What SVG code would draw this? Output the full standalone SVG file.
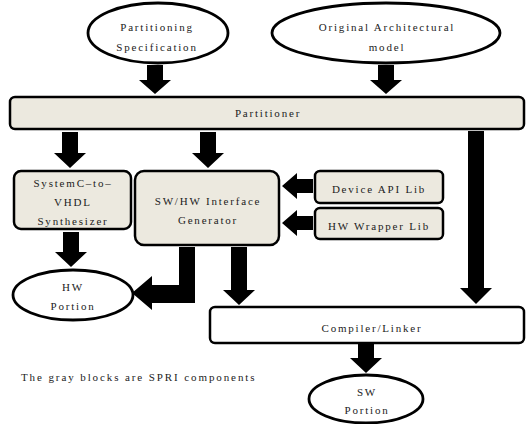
<svg xmlns="http://www.w3.org/2000/svg" width="527" height="424" viewBox="0 0 527 424">
<style>
.box{fill:#ECE9DF;stroke:#000;stroke-width:2.5}
.wbox{fill:#fff;stroke:#000;stroke-width:2.5}
.ell{fill:#fff;stroke:#000;stroke-width:2.8}
.t{font-family:"Liberation Serif","Times New Roman",serif;font-size:11px;letter-spacing:1.8px;fill:#222;text-anchor:middle}
.cap{font-family:"Liberation Serif","Times New Roman",serif;font-size:11px;letter-spacing:1.9px;fill:#222}
.ar{fill:#000}
</style>
<rect width="527" height="424" fill="#fff"/>
<g id="connectors">
<!-- down arrows: shaft half-width 8, head half-width 16 -->
<path class="ar" d="M147,65 H163 V80 H171 L155,94 L139,80 H147 Z"/>
<path class="ar" d="M378,65 H394 V80 H402 L386,94 L370,80 H378 Z"/>
<path class="ar" d="M62,132 H78 V153 H86 L70,168 L54,153 H62 Z"/>
<path class="ar" d="M200,132 H216 V153 H224 L208,168 L192,153 H200 Z"/>
<path class="ar" d="M468,131 H484 V288 H492 L476,304 L460,288 H468 Z"/>
<path class="ar" d="M63,232 H79 V252 H87 L71,267 L55,252 H63 Z"/>
<path class="ar" d="M231,247 H247 V290 H255 L239,305 L223,290 H231 Z"/>
<path class="ar" d="M358,344 H374 V358 H382 L366,373 L350,358 H358 Z"/>
<!-- left arrows from libs -->
<path class="ar" d="M313,179 V193 H297 V199 L282,186 L297,173 V179 Z"/>
<path class="ar" d="M313,216 V230 H297 V236 L282,223 L297,210 V216 Z"/>
<!-- L arrow to HW portion -->
<path class="ar" d="M179,247 H195 V303 H152 V310 L132,293 L152,276 V285 H179 Z"/>
</g>
<g id="partitioning-spec">
<ellipse class="ell" cx="158" cy="33" rx="70" ry="30"/>
<text class="t" x="157" y="31">Partitioning</text>
<text class="t" x="157" y="51">Specification</text>
</g>
<g id="original-model">
<ellipse class="ell" cx="386" cy="33" rx="114" ry="30"/>
<text class="t" x="387" y="31">Original Architectural</text>
<text class="t" x="387" y="51">model</text>
</g>
<g id="partitioner">
<rect class="box" x="10" y="97" width="514" height="32" rx="5"/>
<text class="t" x="268" y="117">Partitioner</text>
</g>
<g id="systemc">
<rect class="box" x="14" y="171" width="117" height="58" rx="7"/>
<text class="t" x="73" y="187">SystemC–to–</text>
<text class="t" x="73" y="206">VHDL</text>
<text class="t" x="73" y="225">Synthesizer</text>
</g>
<g id="swhw">
<rect class="box" x="135" y="171" width="144" height="74" rx="9"/>
<text class="t" x="208" y="205">SW/HW Interface</text>
<text class="t" x="208" y="224">Generator</text>
</g>
<g id="device-api">
<rect class="box" x="315" y="171" width="128" height="32" rx="5"/>
<text class="t" x="379" y="193">Device API Lib</text>
</g>
<g id="hw-wrapper">
<rect class="box" x="315" y="208" width="128" height="31" rx="5"/>
<text class="t" x="379" y="230">HW Wrapper Lib</text>
</g>
<g id="hw-portion">
<ellipse class="ell" cx="73" cy="295" rx="60" ry="25"/>
<text class="t" x="73" y="291">HW</text>
<text class="t" x="73" y="310">Portion</text>
</g>
<g id="compiler">
<rect class="wbox" x="210" y="307" width="314" height="36" rx="5"/>
<text class="t" x="372" y="332">Compiler/Linker</text>
</g>
<g id="sw-portion">
<ellipse class="ell" cx="366" cy="399" rx="57" ry="24"/>
<text class="t" x="367" y="396">SW</text>
<text class="t" x="367" y="414">Portion</text>
</g>
<text class="cap" x="21" y="381">The gray blocks are SPRI components</text>
</svg>
